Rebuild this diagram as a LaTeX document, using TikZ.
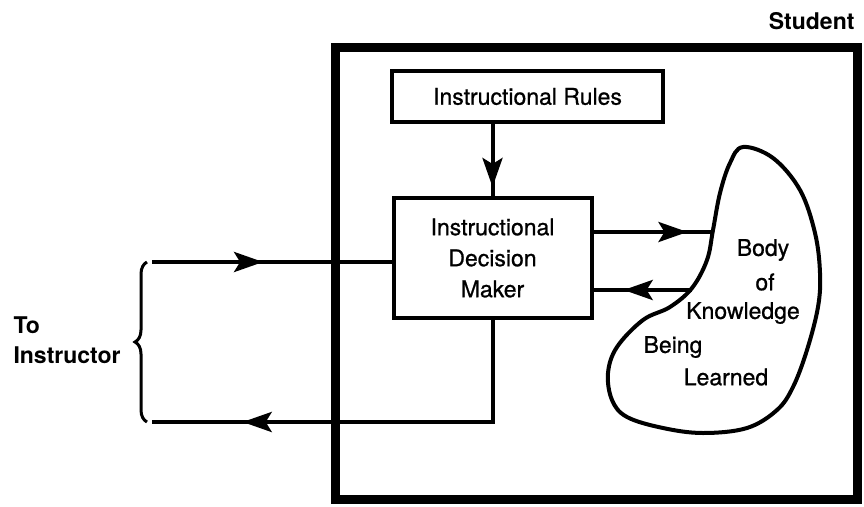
\documentclass[tikz,border=0pt]{standalone}
\usepackage{fontspec}
\setmainfont{TeX Gyre Heros}[FakeBold=0.8]
\newfontfamily\labelfont{TeX Gyre Heros}[BoldFont={TeX Gyre Heros Bold}]
\usetikzlibrary{arrows.meta, positioning, calc, decorations.markings, decorations.pathreplacing}

\begin{document}
\begin{tikzpicture}[x=1pt, y=-1pt,
  box/.style={draw, line width=4pt, inner sep=0pt, outer sep=0pt},
  flow/.style={line width=4pt},
  midarrow/.style={postaction={decorate}, decoration={markings,
    mark=at position #1 with {\arrow{Stealth[length=29pt, width=20pt, inset=6pt]}}}},
  font=\fontsize{23}{31}\selectfont]
  \useasboundingbox (0,0) rectangle (864,506);
  % the student
  \node[draw, line width=9pt, outer sep=0pt, minimum width=522pt, minimum height=452pt] (student) at (596,273) {};
  \node[font=\labelfont\fontsize{23}{31}\selectfont\bfseries, anchor=base east] (stlabel) at (858,29) {Student};
  \node[box, minimum width=271pt, minimum height=51pt] (rules) at (527.5,96.5) {Instructional Rules};
  \node[box, minimum width=198pt, minimum height=120pt, align=center] (ddm) at (492.5,258) {Instructional\\Decision\\Maker};
  % body of knowledge
  \draw[line width=4pt] plot[smooth cycle, tension=0.6] coordinates {
    (743,147) (773,158) (800,190) (815,233) (820,273) (818,307) (807,350) (793,387) (777,410)
    (747,428) (703,433) (663,428) (627,417) (612,400) (608,373) (617,347) (643,320) (670,307)
    (692,288) (707,260) (713,230) (720,193) (730,163)};
  \coordinate (bk-in) at (713,232);
  \coordinate (bk-out) at (692,290);
  \node (body) at (763,250) {Body};
  \node (of) at (765,282) {of};
  \node (knowl) at (743,313) {Knowledge};
  \node (being) at (673,347) {Being};
  \node (learned) at (726,377) {Learned};
  % instructor side
  \coordinate (to-in) at (152,262);
  \coordinate (to-out) at (152,422);
  \node[font=\labelfont\fontsize{23}{30}\selectfont\bfseries, align=left, anchor=west] (instr) at (10,340) {To\\Instructor};
  \draw[line width=3pt, decorate, decoration={brace, amplitude=12pt}] ($(to-out)+(-5,0)$) -- ($(to-in)+(-5,0)$);
  % connectors
  \draw[flow, midarrow=0.855] (ddm.north |- rules.south) -- (ddm.north);
  \draw[flow, midarrow=0.46] (to-in) -- (to-in -| ddm.west);
  \draw[flow, midarrow=0.796] (ddm.south) |- (to-out);
  \draw[flow, midarrow=0.79] (bk-in -| ddm.east) -- (bk-in);
  \draw[flow, midarrow=0.68] (bk-out) -- (bk-out -| ddm.east);
\end{tikzpicture}
\end{document}
